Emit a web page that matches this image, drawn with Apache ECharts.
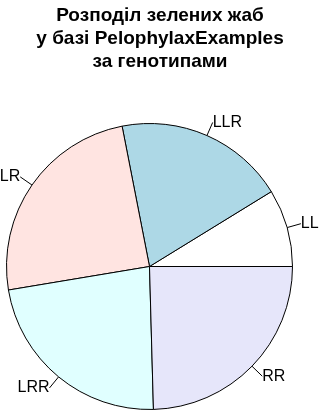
<!DOCTYPE html>
<html><head><meta charset="utf-8">
<script src="https://cdn.jsdelivr.net/npm/echarts@6/dist/echarts.min.js"></script>
<style>html,body{margin:0;padding:0;background:#fff}#c{width:320px;height:411px}</style>
</head><body><div id="c"></div>
<script>
const titleLines = ["Розподіл зелених жаб", "у базі PelophylaxExamples", "за генотипами"];
const categories = ["LL", "LLR", "LR", "LRR", "RR"];
const counts = [5, 11, 14, 13, 14];
const colors = ["#ffffff", "#add8e6", "#ffe4e1", "#e0ffff", "#e6e6fa"];

const R = 143, CX = 149.5, CY = 266.5;
const TICK = R * 0.05;
const font = "'Liberation Sans', Arial, sans-serif";
const chart = echarts.init(document.getElementById('c'), null, {renderer: 'canvas'});
chart.setOption({
  animation: false,
  backgroundColor: '#fff',
  title: {
    text: titleLines.join('\n'),
    left: 'center', top: -1,
    textStyle: {fontFamily: font, fontSize: 19, fontWeight: 'bold', color: '#000', lineHeight: 23}
  },
  series: [
    {
      type: 'pie', center: [CX, CY], radius: [0, R],
      startAngle: 0, clockwise: false, avoidLabelOverlap: false,
      silent: true, emphasis: {disabled: true},
      data: categories.map((c, i) => ({name: c, value: counts[i], itemStyle: {color: colors[i]}})),
      itemStyle: {borderColor: '#000', borderWidth: 1},
      label: {show: true, position: 'outside', formatter: '{b}', color: '#000', fontSize: 16, fontFamily: font},
      labelLine: {show: true, length: TICK, length2: 0, smooth: false, lineStyle: {color: '#000', width: 1}},
      labelLayout: function (p) {
        const pts = p.labelLinePoints;
        if (!pts) return {};
        const b = pts[1];
        const k = (R * 1.1) / (R + TICK);
        const x = CX + (b[0] - CX) * k;
        const y = CY + (b[1] - CY) * k;
        return {x: x, y: y, align: (b[0] < CX ? 'right' : 'left'), verticalAlign: 'middle'};
      }
    }
  ]
});
</script></body></html>
